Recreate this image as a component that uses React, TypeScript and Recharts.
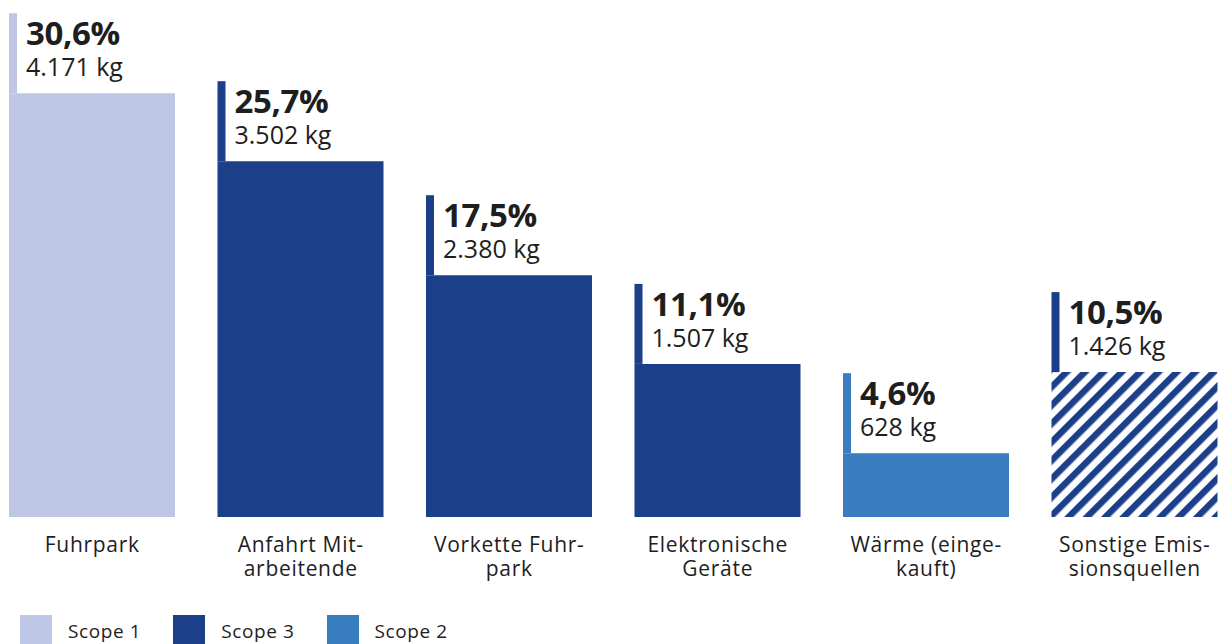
import React from 'react';
import { BarChart, Bar, XAxis, YAxis, Cell, LabelList, Legend } from 'recharts';

// values
const categories = [
    'Fuhrpark',
    'Anfahrt Mitarbeitende',
    'Vorkette Fuhrpark',
    'Elektronische Geräte',
    'Wärme (eingekauft)',
    'Sonstige Emissionsquellen',
];
const tickLines = [
    ['Fuhrpark'],
    ['Anfahrt Mit-', 'arbeitende'],
    ['Vorkette Fuhr-', 'park'],
    ['Elektronische', 'Geräte'],
    ['Wärme (einge-', 'kauft)'],
    ['Sonstige Emis-', 'sionsquellen'],
];
const kgValues = [4171, 3502, 2380, 1507, 628, 1426];
const percentLabels = ['30,6%', '25,7%', '17,5%', '11,1%', '4,6%', '10,5%'];
const scopes = ['Scope 1', 'Scope 3', 'Scope 3', 'Scope 3', 'Scope 2', 'Scope 3'];
const hatched = [false, false, false, false, false, true];
const legendItems = ['Scope 1', 'Scope 3', 'Scope 2'];

const SCOPE_COLORS: Record<string, string> = {
    'Scope 1': '#bec7e5',
    'Scope 2': '#397dc1',
    'Scope 3': '#1b3f88',
};

const FONT = '"Open Sans", Lato, sans-serif';
const TEXT = '#1e1e1e';

const data = categories.map((name, i) => ({
    name,
    kg: kgValues[i],
    pct: percentLabels[i],
    scope: scopes[i],
    hatched: hatched[i],
}));

function formatKg(v: number) {
    const s = String(v);
    return s.length > 3 ? `${s.slice(0, s.length - 3)}.${s.slice(-3)} kg` : `${s} kg`;
}

function CategoryTick(props: any) {
    const { x, y, payload } = props;
    const lines = tickLines[payload.index] ?? [payload.value];
    return (
        <text x={x} y={y} textAnchor="middle" fill={TEXT} fontFamily={FONT} fontSize={21} letterSpacing={0.7}>
            {lines.map((l: string, i: number) => (
                <tspan key={i} x={x} dy={i === 0 ? 27 : 24}>
                    {l}
                </tspan>
            ))}
        </text>
    );
}

function ValueLabel(props: any) {
    const { x, y, index } = props;
    const d = data[index];
    const color = SCOPE_COLORS[d.scope];
    return (
        <g>
            <rect x={x} y={y - 80} width={8} height={80} fill={color} />
            <text x={x + 17} y={y - 48} fill={TEXT} fontFamily={FONT} fontSize={33} fontWeight={700} letterSpacing={-0.4}>
                {d.pct}
            </text>
            <text x={x + 17} y={y - 17} fill={TEXT} fontFamily={FONT} fontSize={25}>
                {formatKg(d.kg)}
            </text>
        </g>
    );
}

function ScopeLegend() {
    return (
        <div style={{ display: 'flex', alignItems: 'center', fontFamily: FONT, fontSize: 19, letterSpacing: 0.6, color: TEXT }}>
            {legendItems.map((s) => (
                <div key={s} style={{ display: 'flex', alignItems: 'center', marginRight: 32 }}>
                    <span style={{ display: 'inline-block', width: 32, height: 32, background: SCOPE_COLORS[s], marginRight: 16 }} />
                    <span>{s}</span>
                </div>
            ))}
        </div>
    );
}

export default function App() {
    return (
        <div style={{ position: 'absolute', left: 0, top: 0, width: 1225, height: 644, background: '#fff', overflow: 'hidden' }}>
            <BarChart width={1225} height={644} data={data} margin={{ top: 9, right: -14, bottom: 8, left: -12 }}>
                <defs>
                    <pattern id="stripes" patternUnits="userSpaceOnUse" width={13} height={13} patternTransform="rotate(45)">
                        <rect x={0} y={0} width={13} height={13} fill="#ffffff" />
                        <rect x={0} y={0} width={6.5} height={13} fill={SCOPE_COLORS['Scope 3']} />
                    </pattern>
                </defs>
                <XAxis dataKey="name" axisLine={false} tickLine={false} interval={0} height={87} tick={<CategoryTick />} />
                <YAxis hide domain={[0, 5000]} />
                <Legend
                    content={<ScopeLegend />}
                    wrapperStyle={{ position: 'absolute', left: 20, top: 615, width: 600 }}
                />
                <Bar dataKey="kg" barSize={166} isAnimationActive={false}>
                    {data.map((d, i) => (
                        <Cell key={`cell-${i}`} fill={d.hatched ? 'url(#stripes)' : SCOPE_COLORS[d.scope]} />
                    ))}
                    <LabelList dataKey="kg" content={<ValueLabel />} />
                </Bar>
            </BarChart>
        </div>
    );
}
